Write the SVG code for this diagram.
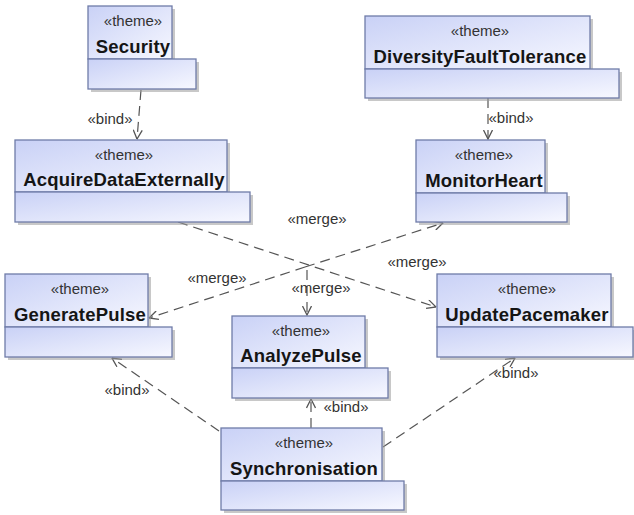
<svg xmlns="http://www.w3.org/2000/svg" width="634" height="515" viewBox="0 0 634 515">
<defs>
<linearGradient id="g" x1="0" y1="0" x2="1" y2="1">
<stop offset="0" stop-color="#c9d1f6"/>
<stop offset="1" stop-color="#f7f8ff"/>
</linearGradient>
<marker id="ar" viewBox="0 0 10 10" refX="9.5" refY="5" markerWidth="10" markerHeight="10" markerUnits="userSpaceOnUse" orient="auto">
<path d="M0.5,0.5 L9.5,5 L0.5,9.5" fill="none" stroke="#555" stroke-width="1.3"/>
</marker>
</defs>
<style>
.sh{fill:#9a9a9a;opacity:0.55}
.bx{fill:url(#g);stroke:#6f7ca8;stroke-width:1.3}
.st{font-family:"Liberation Sans",Arial,sans-serif;font-size:15px;fill:#333;text-anchor:middle}
.nm{font-family:"Liberation Sans",Arial,sans-serif;font-size:18.5px;font-weight:bold;fill:#151515;text-anchor:middle;letter-spacing:0.2px}
.cn{fill:none;stroke:#555;stroke-width:1.2;stroke-dasharray:10,6}
.lb{font-family:"Liberation Sans",Arial,sans-serif;font-size:15px;fill:#333;text-anchor:middle}
</style>
<rect width="634" height="515" fill="#fff"/>

<g id="connectors">
<path class="cn" d="M141,90 L137,139" marker-end="url(#ar)"/>
<path class="cn" d="M488,98 L488,139" marker-end="url(#ar)"/>
<path class="cn" d="M178,222 L436,307" marker-end="url(#ar)"/>
<path class="cn" d="M305,267 L149,318" marker-end="url(#ar)"/>
<path class="cn" d="M305,267 L443,223" marker-end="url(#ar)"/>
<path class="cn" d="M307,270 L307,315" marker-end="url(#ar)"/>
<path class="cn" d="M219,431 L112,358" marker-end="url(#ar)"/>
<path class="cn" d="M311,428 L311,399" marker-end="url(#ar)"/>
<path class="cn" d="M383,447 L515,358" marker-end="url(#ar)"/>
<text class="lb" x="110" y="124">«bind»</text>
<text class="lb" x="511" y="123">«bind»</text>
<text class="lb" x="317" y="224">«merge»</text>
<text class="lb" x="417" y="267">«merge»</text>
<text class="lb" x="217" y="283">«merge»</text>
<text class="lb" x="321" y="293">«merge»</text>
<text class="lb" x="127" y="395">«bind»</text>
<text class="lb" x="346" y="412">«bind»</text>
<text class="lb" x="516" y="378">«bind»</text>
</g>

<g id="Security">
<rect class="sh" x="91" y="9" width="84" height="53"/>
<rect class="sh" x="91" y="62" width="108" height="30"/>
<rect class="bx" x="88" y="6" width="84" height="53"/>
<rect class="bx" x="88" y="59" width="108" height="30"/>
<text class="st" x="133" y="26">«theme»</text>
<text class="nm" x="133" y="53">Security</text>
</g>

<g id="DiversityFaultTolerance">
<rect class="sh" x="368" y="19" width="225" height="53"/>
<rect class="sh" x="368" y="72" width="254" height="29"/>
<rect class="bx" x="365" y="16" width="225" height="53"/>
<rect class="bx" x="365" y="69" width="254" height="29"/>
<text class="st" x="480" y="36">«theme»</text>
<text class="nm" x="480" y="63">DiversityFaultTolerance</text>
</g>

<g id="AcquireDataExternally">
<rect class="sh" x="18" y="143" width="212" height="52"/>
<rect class="sh" x="18" y="195" width="235" height="30"/>
<rect class="bx" x="15" y="140" width="212" height="52"/>
<rect class="bx" x="15" y="192" width="235" height="30"/>
<text class="st" x="124" y="160">«theme»</text>
<text class="nm" x="124" y="186">AcquireDataExternally</text>
</g>

<g id="MonitorHeart">
<rect class="sh" x="419" y="143" width="129" height="53"/>
<rect class="sh" x="419" y="196" width="151" height="29"/>
<rect class="bx" x="416" y="140" width="129" height="53"/>
<rect class="bx" x="416" y="193" width="151" height="29"/>
<text class="st" x="484" y="160">«theme»</text>
<text class="nm" x="484" y="187">MonitorHeart</text>
</g>

<g id="GeneratePulse">
<rect class="sh" x="8" y="277" width="143" height="53"/>
<rect class="sh" x="8" y="330" width="167" height="30"/>
<rect class="bx" x="5" y="274" width="143" height="53"/>
<rect class="bx" x="5" y="327" width="167" height="30"/>
<text class="st" x="80" y="294">«theme»</text>
<text class="nm" x="80" y="321">GeneratePulse</text>
</g>

<g id="AnalyzePulse">
<rect class="sh" x="235" y="319" width="133" height="52"/>
<rect class="sh" x="235" y="371" width="156" height="30"/>
<rect class="bx" x="232" y="316" width="133" height="52"/>
<rect class="bx" x="232" y="368" width="156" height="30"/>
<text class="st" x="301" y="336">«theme»</text>
<text class="nm" x="301" y="362">AnalyzePulse</text>
</g>

<g id="UpdatePacemaker">
<rect class="sh" x="440" y="277" width="174" height="53"/>
<rect class="sh" x="440" y="330" width="196" height="30"/>
<rect class="bx" x="437" y="274" width="174" height="53"/>
<rect class="bx" x="437" y="327" width="196" height="30"/>
<text class="st" x="527" y="294">«theme»</text>
<text class="nm" x="527" y="321">UpdatePacemaker</text>
</g>

<g id="Synchronisation">
<rect class="sh" x="224" y="431" width="161" height="53"/>
<rect class="sh" x="224" y="484" width="183" height="29"/>
<rect class="bx" x="221" y="428" width="161" height="53"/>
<rect class="bx" x="221" y="481" width="183" height="29"/>
<text class="st" x="304" y="448">«theme»</text>
<text class="nm" x="304" y="475">Synchronisation</text>
</g>
</svg>
